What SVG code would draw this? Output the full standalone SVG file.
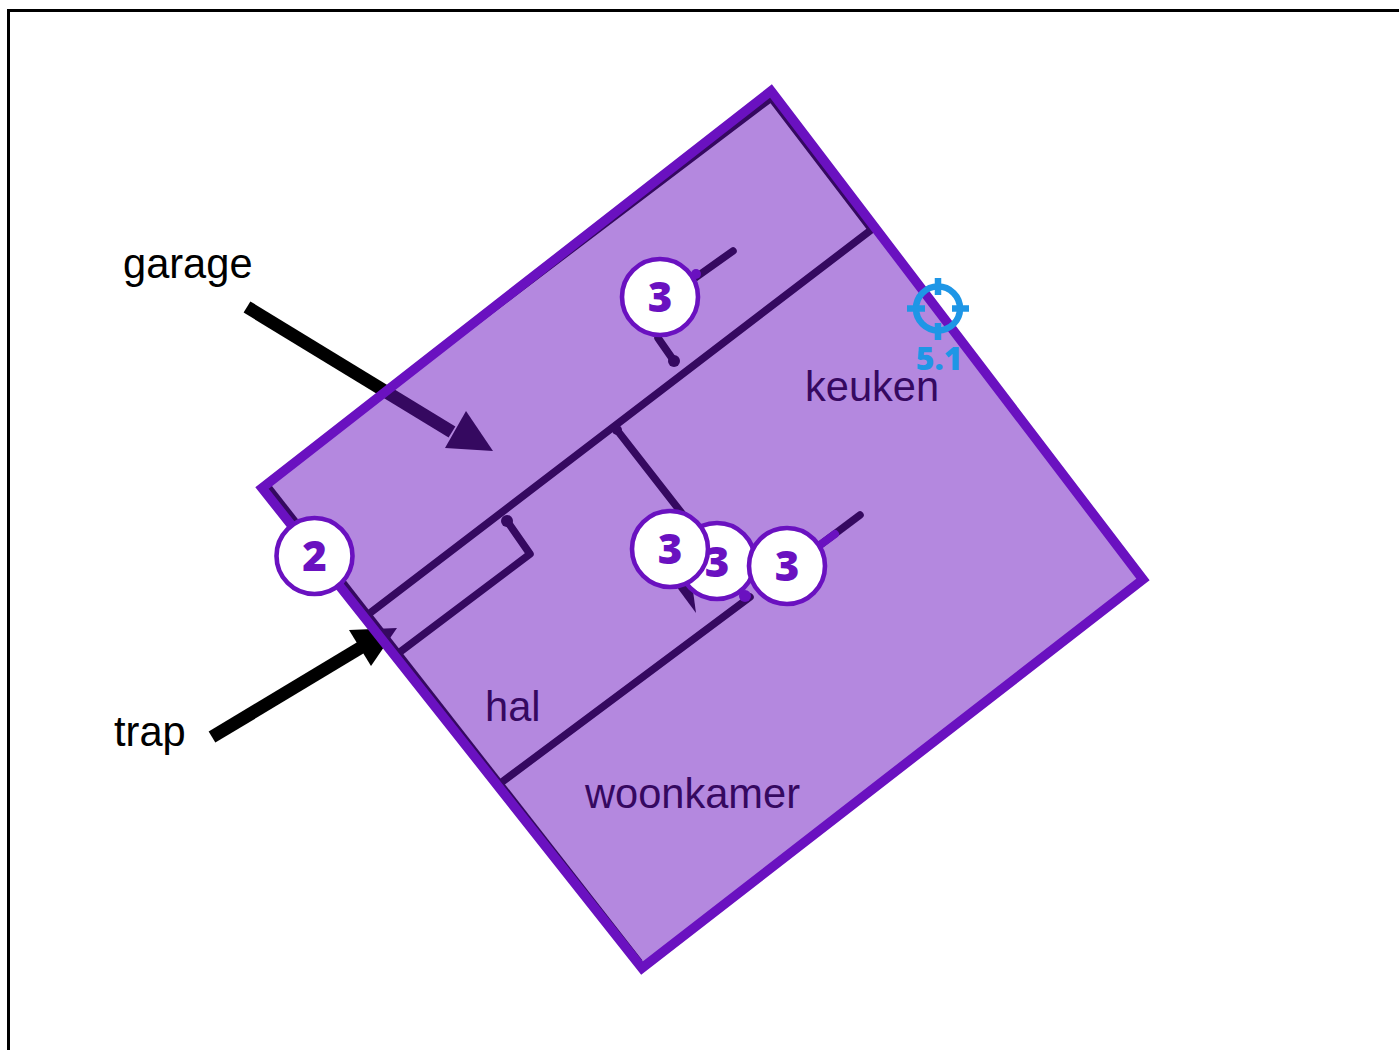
<svg xmlns="http://www.w3.org/2000/svg" width="1399" height="1050" viewBox="0 0 1399 1050">
<style>
.wall{fill:none;stroke:#000;stroke-width:7.5;stroke-linecap:round;stroke-linejoin:round}
.edge{stroke-width:6;stroke-linecap:butt}
.lbl{font-family:"Liberation Sans",Arial,sans-serif;font-size:41.6px;fill:#000}
.pin{fill:#fff;stroke:#6a11c0;stroke-width:4.6}
.num{font-family:"Open Sans",sans-serif;font-weight:800;font-size:42px;fill:#6a11c0;text-anchor:middle}
.lead{fill:none;stroke:#6a11c0;stroke-width:8;stroke-linecap:round}
.tgt{fill:none;stroke:#1e96e6;stroke-width:6.5}
</style>
<rect width="1399" height="1050" fill="#fff"/>
<rect x="8.5" y="10.5" width="1500" height="1200" fill="none" stroke="#000" stroke-width="3"/>
<g id="connectors">
<path class="wall edge" d="M400 380L771 99L871 230"/>
<path class="wall edge" d="M269 487L640 962"/>
<path class="wall" d="M370 613L871 230"/>
<path class="wall" d="M400 652L530 554L507 521"/>
<path class="wall" d="M617 430L684 516"/>
<path class="wall" d="M502 782L750 597"/>
<path class="wall" d="M860 515L820 545"/>
<path class="wall" d="M733 251L695 278"/>
<path class="wall" d="M658 338L674 361"/>
<circle cx="507" cy="521" r="6"/>
<circle cx="674" cy="361" r="6"/>
<circle cx="617" cy="430" r="5"/>
<path d="M676 586L691 576L696 613Z"/>
<path d="M247 307L452 432" fill="none" stroke="#000" stroke-width="13"/>
<path d="M466 411L493 451L445 448Z"/>
<path d="M212 737L365 645" fill="none" stroke="#000" stroke-width="13"/>
<path d="M349 630L397 628L371 666Z"/>
</g>
<g id="labels">
<text class="lbl" x="123" y="278">garage</text>
<text class="lbl" x="114" y="746">trap</text>
<text class="lbl" x="805" y="401">keuken</text>
<text class="lbl" x="485" y="721">hal</text>
<text class="lbl" x="585" y="808">woonkamer</text>
</g>
<g id="plan">
<path d="M771 91L1143 579.5L642 968L262 488Z" fill="#6a11c0" fill-opacity=".5" stroke="#6a11c0" stroke-width="9.5"/>
</g>
<g id="leaders">
<path class="lead" d="M820 545L835 534"/>
<circle cx="696" cy="274" r="5" fill="#6a11c0"/>
<circle cx="745" cy="596" r="6" fill="#6a11c0"/>
</g>
<g id="target-5-1">
<circle class="tgt" cx="938" cy="308.5" r="22"/>
<path class="tgt" d="M938 278V295M938 323V340M907 308.5H925M952 308.5H969"/>
<text x="939" y="370" font-family="Open Sans,sans-serif" font-weight="800" font-size="32" fill="#1e96e6" text-anchor="middle">5.1</text>
</g>
<g id="pin-2"><circle class="pin" cx="314.500" cy="556" r="38"/><text class="num" x="314.500" y="571">2</text></g>
<g id="pin-3a"><circle class="pin" cx="660" cy="297" r="38"/><text class="num" x="660" y="312">3</text></g>
<g id="pin-3b"><circle class="pin" cx="717" cy="561" r="38"/><text class="num" x="717" y="577">3</text></g>
<g id="pin-3c"><circle class="pin" cx="670" cy="549" r="38"/><text class="num" x="670" y="564">3</text></g>
<g id="pin-3d"><circle class="pin" cx="787" cy="566" r="38"/><text class="num" x="787" y="581">3</text></g>
</svg>
